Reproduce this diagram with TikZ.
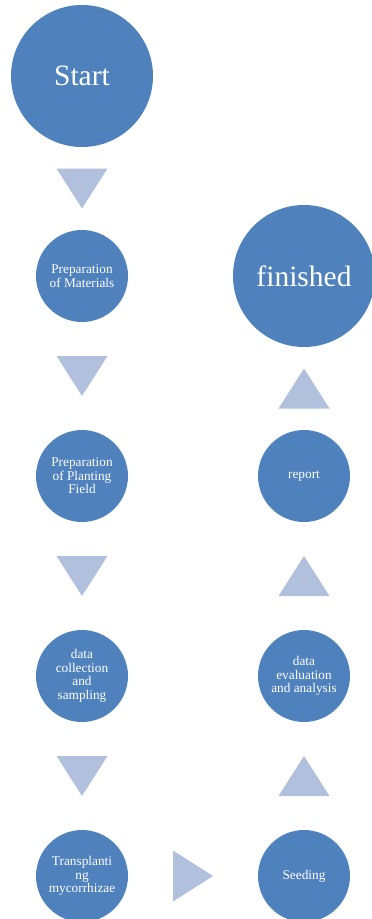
\documentclass[tikz,border=0pt]{standalone}
\usepackage{fontspec}
\setmainfont{Liberation Serif}
\usetikzlibrary{calc}
\definecolor{stepblue}{RGB}{79,129,189}
\definecolor{arrowblue}{RGB}{176,192,221}

\begin{document}
\begin{tikzpicture}[x = 1pt, y = -1pt,
        bigstep/.style = {circle, fill = stepblue, text = white, minimum size = 142pt, inner sep = 0pt,
            font = \fontsize{29.5}{32}\selectfont},
        smallstep/.style = {circle, fill = stepblue, text = white, minimum size = 92pt, inner sep = 0pt,
            align = center, font = \fontsize{13.3}{13.6}\selectfont},
        tri/.style = {fill = arrowblue}]
        \clip (0, 0) rectangle (372, 919);
        \node [bigstep] (start) at (82, 76) {Start};
        \node [smallstep] (materials) at (82, 276) {Preparation\\of Materials};
        \node [smallstep] (field) at (82, 476) {Preparation\\of Planting\\Field};
        \node [smallstep] (sampling) at (82, 676) {data\\collection\\and\\sampling};
        \node [smallstep] (transplant) at (82, 876) {Transplanti\\ng\\mycorrhizae};
        \node [smallstep] (seeding) at (304, 876) {Seeding};
        \node [smallstep] (evaluation) at (304, 676) {data\\evaluation\\and analysis};
        \node [smallstep] (report) at (304, 476) {report};
        \node [bigstep] (finished) at (304, 276) {finished};
        \foreach \a/\b in {start/materials, materials/field, field/sampling, sampling/transplant} {
            \coordinate (m) at ($(\a.south)!0.5!(\b.north)$);
            \fill [tri] ($(m) + (-25.5, -20)$) -- ($(m) + (25.5, -20)$) -- ($(m) + (0, 20)$) -- cycle;
        }
        \foreach \a/\b in {seeding/evaluation, evaluation/report, report/finished} {
            \coordinate (m) at ($(\a.north)!0.5!(\b.south)$);
            \fill [tri] ($(m) + (-25.5, 20)$) -- ($(m) + (25.5, 20)$) -- ($(m) + (0, -20)$) -- cycle;
        }
        \coordinate (m) at ($(transplant.east)!0.5!(seeding.west)$);
        \fill [tri] ($(m) + (-20, -25.5)$) -- ($(m) + (-20, 25.5)$) -- ($(m) + (20, 0)$) -- cycle;
\end{tikzpicture}
\end{document}
